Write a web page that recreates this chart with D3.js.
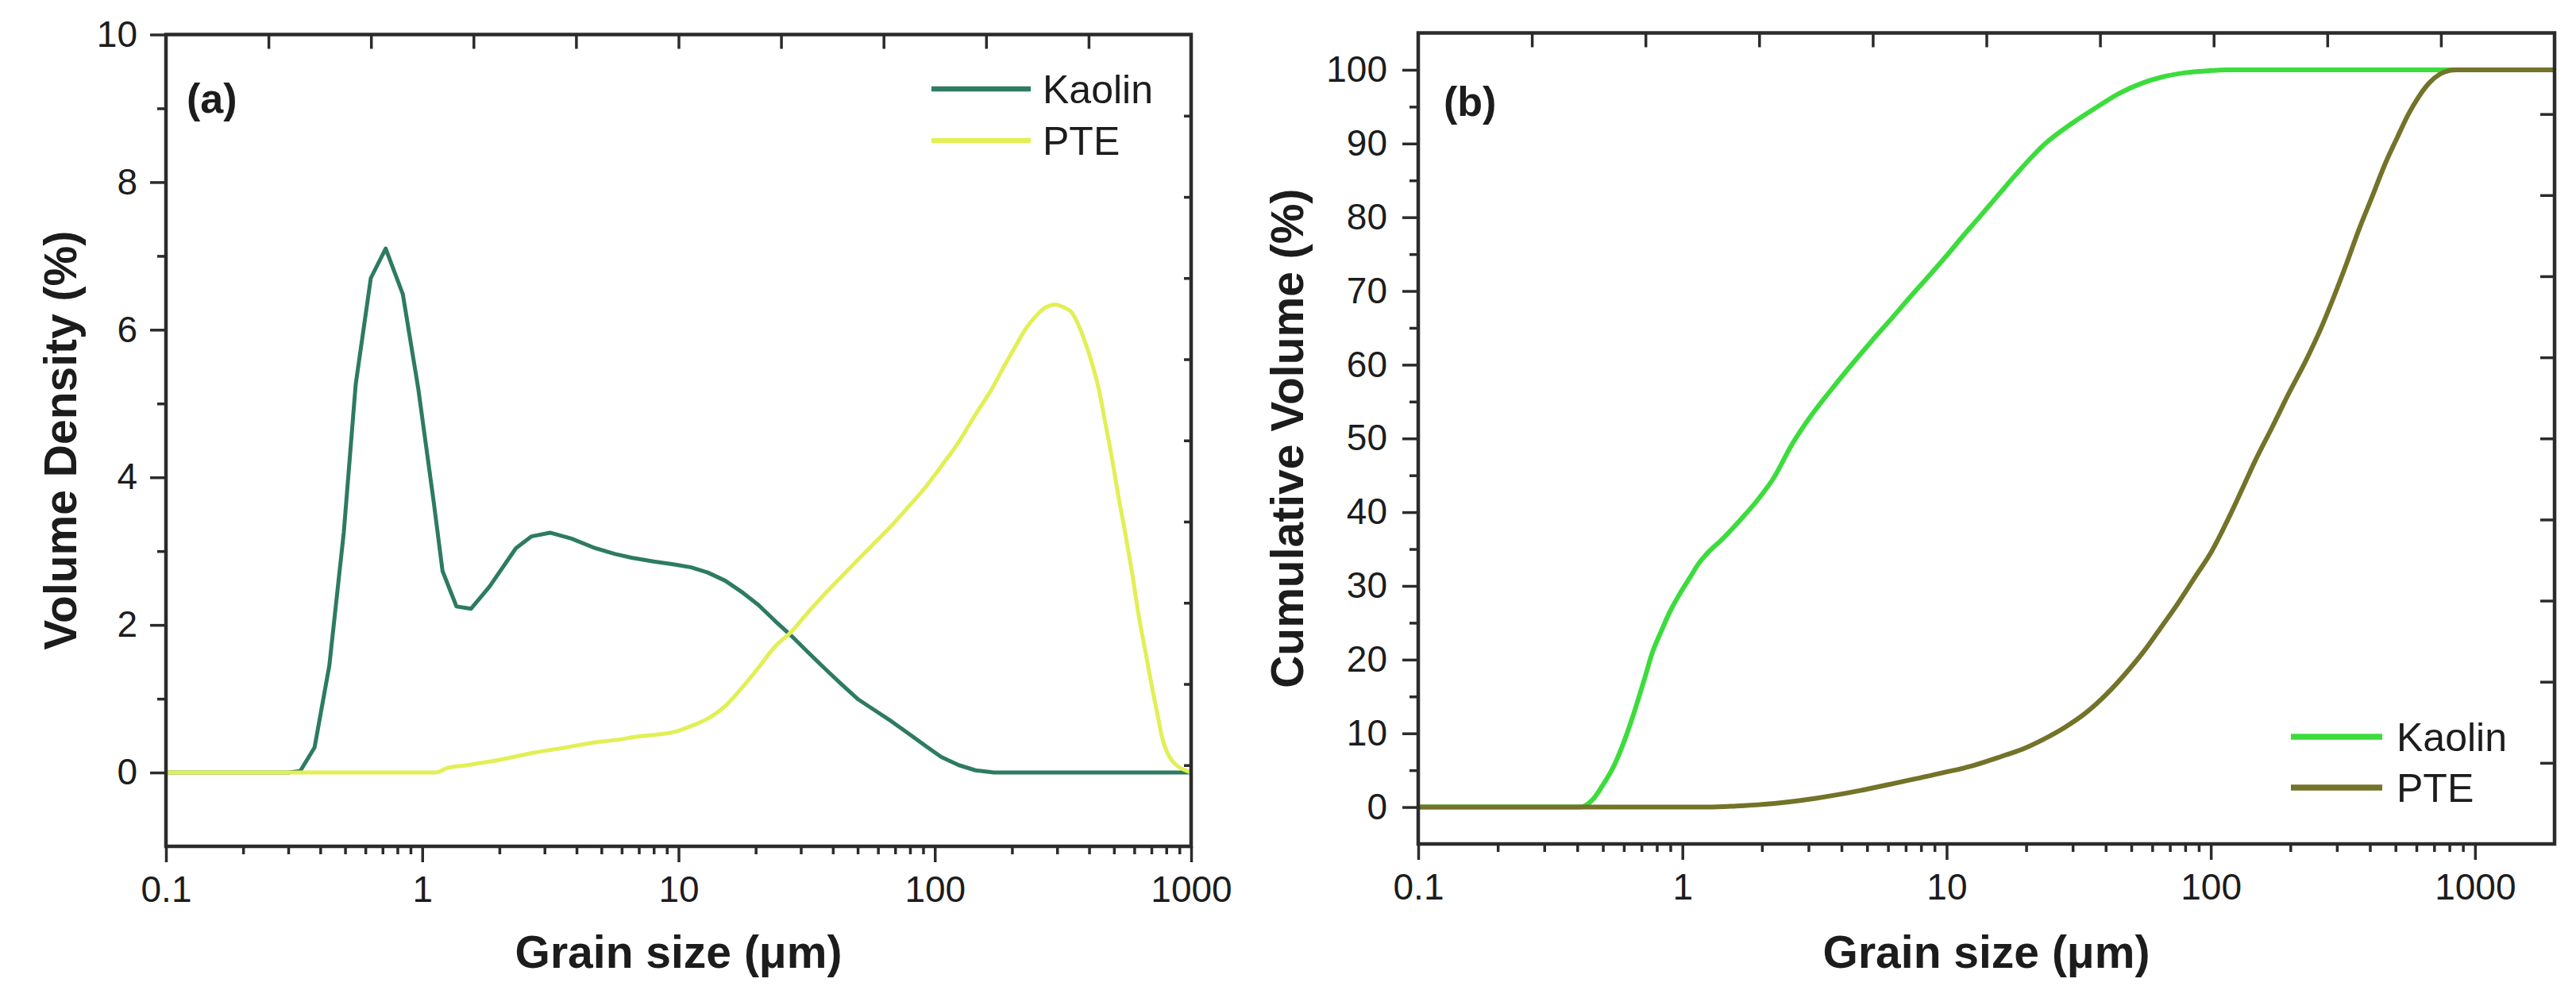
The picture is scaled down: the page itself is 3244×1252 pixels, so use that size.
<!DOCTYPE html>
<html>
<head>
<meta charset="utf-8">
<script src="https://cdn.jsdelivr.net/npm/d3@7"></script>
<style>
  body { margin: 0; background: #fff; }
  text { font-family: "Liberation Sans", Arial, sans-serif; fill: #1c1c1c; }
</style>
</head>
<body>
<div id="chart"></div>
<script>
// (a) volume density
const kaolinSizeA = [0.1, 0.3, 0.334, 0.38, 0.434, 0.494, 0.55, 0.63, 0.72, 0.84, 0.965, 1.11, 1.2, 1.36, 1.55,
  1.83, 2.32, 2.67, 3.15, 3.82, 4.73, 5.67, 6.56, 8.0, 9.64, 11.2, 13.0, 15.2, 17.6, 20.5, 23.7, 27.6, 32,
  37.2, 43.4, 50.3, 58.5, 68, 78.8, 92, 106, 124, 144, 170, 1000];
const kaolinDensity = [0, 0, 0.02, 0.34, 1.45, 3.25, 5.26, 6.7, 7.1, 6.48, 5.2, 3.65, 2.73, 2.25, 2.22,
  2.52, 3.04, 3.2, 3.25, 3.17, 3.04, 2.96, 2.91, 2.86, 2.82, 2.78, 2.71, 2.6, 2.45, 2.27, 2.06, 1.85, 1.63,
  1.41, 1.19, 0.99, 0.84, 0.69, 0.53, 0.36, 0.21, 0.1, 0.03, 0, 0];
const pteSizeA = [0.1, 1.13, 1.25, 1.5, 2.06, 2.73, 3.5, 4.73, 5.67, 7.0, 8.5, 9.64, 11.2, 13.0, 15.2, 17.6,
  20.5, 23.7, 27.6, 32, 37.2, 43.4, 50.3, 58.5, 68, 78.8, 91.6, 106, 124, 144, 167, 186, 206, 225, 247, 270,
  295, 320, 343, 365, 387, 410, 436, 462, 490, 520, 553, 590, 625, 665, 705, 740, 771, 805, 843, 900, 951, 1000];
const pteDensity = [0, 0, 0.06, 0.1, 0.18, 0.27, 0.33, 0.41, 0.44, 0.49, 0.52, 0.55, 0.63, 0.73, 0.9, 1.14,
  1.42, 1.7, 1.91, 2.17, 2.42, 2.66, 2.89, 3.12, 3.35, 3.6, 3.86, 4.15, 4.48, 4.85, 5.2, 5.5, 5.77, 6.0, 6.18, 6.3,
  6.34, 6.3, 6.23, 6.05, 5.82, 5.55, 5.2, 4.75, 4.28, 3.75, 3.25, 2.68, 2.12, 1.62, 1.14, 0.78, 0.47, 0.28, 0.16, 0.07, 0.03, 0];

// (b) cumulative volume
const kaolinSizeB = [0.1, 0.41, 0.46, 0.5, 0.554, 0.61, 0.664, 0.72, 0.77, 0.83, 0.891, 0.98, 1.07, 1.15, 1.24,
  1.42, 1.66, 1.95, 2.23, 2.58, 3.1, 3.6, 4.32, 5.2, 6.2, 7.2, 8.35, 10, 11.5, 13, 15.5, 18.5, 23.3, 30, 37.6,
  45, 55, 65, 80, 100, 115, 2000];
const kaolinCum = [0, 0, 1.1, 3.0, 5.8, 9.5, 13.4, 17.5, 21, 23.8, 26.3, 29, 31.2, 33, 34.4,
  36.4, 39, 41.9, 44.8, 49, 53.3, 56.3, 59.8, 63.2, 66.3, 69, 71.6, 74.8, 77.4, 79.6, 82.8, 86, 89.8, 92.8, 95.1,
  96.8, 98.2, 99, 99.6, 99.9, 100, 100];
const pteSizeB = [0.1, 1.25, 1.6, 2.23, 3.2, 4.64, 6.5, 9.66, 12.5, 16.2, 19.5, 23.3, 28, 33.7, 40, 48.6, 56,
  65.2, 75, 87.5, 100, 117.5, 136, 146, 170, 196, 230, 263, 295, 327, 365, 408, 455, 509, 560, 611, 670, 735,
  800, 849, 2000];
const pteCum = [0, 0, 0.15, 0.5, 1.2, 2.2, 3.3, 4.65, 5.6, 6.9, 7.9, 9.2, 10.8, 12.8, 15.2, 18.5, 21.2,
  24.5, 27.6, 31.3, 34.5, 39.4, 44.3, 46.7, 51.4, 55.9, 60.7, 65.2, 69.6, 73.8, 78.5, 82.8, 87.1, 90.9, 94, 96.3, 98.2, 99.4,
  99.9, 100, 100];

const xMajor = [0.1, 1, 10, 100, 1000];
const yMajorA = [0, 2, 4, 6, 8, 10];
const yMajorB = [0, 10, 20, 30, 40, 50, 60, 70, 80, 90, 100];
const seriesNames = ["Kaolin", "PTE"];

const W = 3244, H = 1252;
const axisColor = "#2b2b2b";
const svg = d3.select("#chart").append("svg").attr("width", W).attr("height", H);
svg.append("rect").attr("width", W).attr("height", H).attr("fill", "#fff");

const styleAxis = (a, size) => {
  a.select(".domain").remove();
  a.selectAll("line").attr("stroke", axisColor).attr("stroke-width", 3.5);
  a.selectAll("text").attr("font-size", size).attr("font-family", "Liberation Sans, Arial, sans-serif").attr("fill", "#1c1c1c");
};

const panel = (P) => {
  const x = d3.scaleLog().domain(P.xDomain).range([P.left, P.right]);
  const y = d3.scaleLinear().domain(P.yDomain).range([P.bottom, P.top]);
  const g = svg.append("g");

  const xMinor = [];
  xMajor.forEach(d => d3.range(2, 10).forEach(k => {
    const v = d * k;
    if (v < P.xDomain[1]) xMinor.push(v);
  }));
  const yMinor = P.yMajor.slice(0, -1).map((d, i) => (d + P.yMajor[i + 1]) / 2);

  // curves
  P.series.forEach(s => {
    const line = d3.line().x(d => x(d[0])).y(d => y(d[1])).curve(s.curve);
    g.append("path")
      .datum(d3.zip(s.sizes, s.values))
      .attr("fill", "none")
      .attr("stroke", s.color)
      .attr("stroke-width", P.lineWidth)
      .attr("stroke-linejoin", "round")
      .attr("d", line);
  });

  // bottom axis
  g.append("g").attr("transform", `translate(0,${P.bottom})`)
    .call(d3.axisBottom(x).tickValues(xMajor).tickFormat(d3.format("~g")).tickSize(20).tickPadding(17))
    .call(a => styleAxis(a, 46));
  g.append("g").attr("transform", `translate(0,${P.bottom})`)
    .call(d3.axisBottom(x).tickValues(xMinor).tickFormat("").tickSize(10))
    .call(a => styleAxis(a, 46));

  // left axis
  g.append("g").attr("transform", `translate(${P.left},0)`)
    .call(d3.axisLeft(y).tickValues(P.yMajor).tickSize(20).tickPadding(P.yPad))
    .call(a => styleAxis(a, 46));
  g.append("g").attr("transform", `translate(${P.left},0)`)
    .call(d3.axisLeft(y).tickValues(yMinor).tickFormat("").tickSize(11))
    .call(a => styleAxis(a, 46));

  // opposite axes: ten equal divisions, inward ticks
  const tx = d3.scaleLinear().domain([0, 10]).range([P.left, P.right]);
  const ty = d3.scaleLinear().domain([0, 10]).range([P.bottom, P.top]);
  g.append("g").attr("transform", `translate(0,${P.top})`)
    .call(d3.axisTop(tx).tickValues(d3.range(1, 10)).tickFormat("").tickSize(-18))
    .call(a => styleAxis(a, 46));
  g.append("g").attr("transform", `translate(${P.right},0)`)
    .call(d3.axisRight(ty).tickValues(d3.range(1, 10)).tickFormat("").tickSize(-P.rightTick))
    .call(a => styleAxis(a, 46));

  // frame
  g.append("rect")
    .attr("x", P.left).attr("y", P.top)
    .attr("width", P.right - P.left).attr("height", P.bottom - P.top)
    .attr("fill", "none").attr("stroke", axisColor).attr("stroke-width", 4.5);

  // titles
  g.append("text")
    .attr("x", (P.left + P.right) / 2).attr("y", 1219)
    .attr("text-anchor", "middle").attr("font-weight", "bold").attr("font-size", 57)
    .text("Grain size (\u03bcm)");
  g.append("text")
    .attr("transform", `translate(${P.yTitleX},${(P.top + P.bottom) / 2}) rotate(-90)`)
    .attr("text-anchor", "middle").attr("font-weight", "bold").attr("font-size", 57)
    .text(P.yTitle);
  g.append("text")
    .attr("x", P.tag[1]).attr("y", P.tag[2])
    .attr("font-weight", "bold").attr("font-size", 52)
    .text(P.tag[0]);

  // legend
  P.series.forEach((s, i) => {
    const ly = P.legend.y + i * P.legend.step;
    g.append("line")
      .attr("x1", P.legend.x1).attr("x2", P.legend.x2)
      .attr("y1", ly).attr("y2", ly)
      .attr("stroke", s.color).attr("stroke-width", P.lineWidth + 1.5);
    g.append("text")
      .attr("x", P.legend.tx).attr("y", ly + 18)
      .attr("font-size", 50)
      .text(s.name);
  });
};

panel({
  left: 209, right: 1500, top: 43.5, bottom: 1066,
  xDomain: [0.1, 1000], yDomain: [-1, 10], yMajor: yMajorA, yPad: 16,
  rightTick: 9, lineWidth: 5,
  yTitle: "Volume Density (%)", yTitleX: 96,
  tag: ["(a)", 235, 142],
  legend: { x1: 1173, x2: 1298, tx: 1313, y: 112, step: 65 },
  series: [
    { name: seriesNames[0], sizes: kaolinSizeA, values: kaolinDensity, color: "#2d7b60", curve: d3.curveLinear },
    { name: seriesNames[1], sizes: pteSizeA, values: pteDensity, color: "#e2ef55", curve: d3.curveMonotoneX }
  ]
});

panel({
  left: 1786, right: 3217, top: 41.5, bottom: 1063,
  xDomain: [0.1, 2000], yDomain: [-5, 105], yMajor: yMajorB, yPad: 19,
  rightTick: 18, lineWidth: 6,
  yTitle: "Cumulative Volume (%)", yTitleX: 1641,
  tag: ["(b)", 1818, 146],
  legend: { x1: 2885, x2: 3000, tx: 3018, y: 928, step: 64 },
  series: [
    { name: seriesNames[0], sizes: kaolinSizeB, values: kaolinCum, color: "#3cdc3c", curve: d3.curveMonotoneX },
    { name: seriesNames[1], sizes: pteSizeB, values: pteCum, color: "#737329", curve: d3.curveMonotoneX }
  ]
});
</script>
</body>
</html>
